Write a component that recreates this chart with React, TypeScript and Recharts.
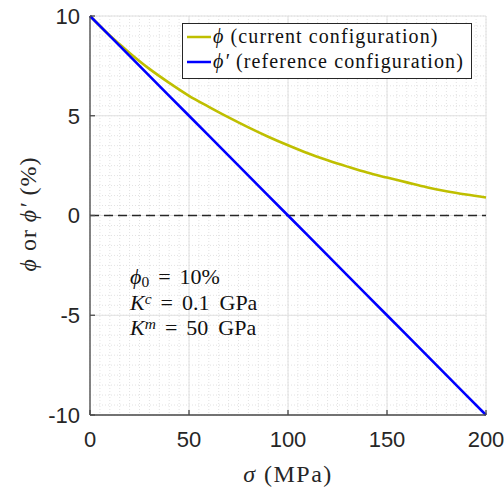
import React from "react";
import { LineChart, Line, XAxis, YAxis, CartesianGrid, ReferenceLine, Legend, Label } from "recharts";

// stress (MPa) and porosity (%)
const sigmaMPa = [0, 10, 20, 30, 40, 50, 60, 70, 80, 90, 100, 110, 120, 130, 140, 150, 160, 170, 180, 190, 200];
const phiCurrent = [10, 9.02, 8.15, 7.35, 6.65, 6.0, 5.45, 4.92, 4.42, 3.95, 3.52, 3.12, 2.77, 2.45, 2.15, 1.9, 1.66, 1.42, 1.22, 1.05, 0.9];
const phiReference = [10, 9, 8, 7, 6, 5, 4, 3, 2, 1, 0, -1, -2, -3, -4, -5, -6, -7, -8, -9, -10];

const xTicks = [0, 50, 100, 150, 200];
const yTicks = [-10, -5, 0, 5, 10];
// minor grid positions
const xMinor = Array.from({ length: 41 }, (_, i) => i * 5);
const yMinor = Array.from({ length: 41 }, (_, i) => -10 + i * 0.5);

const data = sigmaMPa.map((s, i) => ({ sigma: s, phi: phiCurrent[i], phiRef: phiReference[i] }));

const YELLOW = "#BFBF00";
const BLUE = "#0000FF";
const AXIS = "#4a4a4a";
const SERIF = "'Liberation Serif', 'DejaVu Serif', serif";
const SANS = "'Liberation Sans', Arial, sans-serif";

const tickStyle = { fontFamily: SANS, fontSize: 22, fill: "#262626" };

const YTitle = () => (
  <text
    x={28}
    y={214}
    transform="rotate(-90 28 214)"
    textAnchor="middle"
    dominantBaseline="central"
    fontFamily={SERIF}
    fontSize={24}
    letterSpacing={1}
    fill="#262626"
  >
    <tspan fontStyle="italic">ϕ</tspan>
    <tspan> or </tspan>
    <tspan fontStyle="italic">ϕ′</tspan>
    <tspan> (%)</tspan>
  </text>
);

const XTitle = () => (
  <text x={288} y={482} textAnchor="middle" fontFamily={SERIF} fontSize={24} letterSpacing={1.5} fill="#262626">
    <tspan fontStyle="italic">σ</tspan>
    <tspan> (MPa)</tspan>
  </text>
);

const LegendBox = () => {
  const rows = [
    { color: YELLOW, sym: "ϕ", text: " (current configuration)" },
    { color: BLUE, sym: "ϕ′", text: " (reference configuration)" },
  ];
  return (
    <div
      style={{
        boxSizing: "border-box",
        width: 290,
        height: 56,
        border: "1px solid #262626",
        background: "#fff",
        fontFamily: SERIF,
        fontSize: 20,
        letterSpacing: 1.1,
        color: "#111",
      }}
    >
      {rows.map((r) => (
        <div key={r.sym} style={{ height: 25, lineHeight: "25px", display: "flex", alignItems: "center", whiteSpace: "nowrap" }}>
          <svg width={30} height={6} style={{ flex: "none" }}>
            <line x1={4} y1={3} x2={28} y2={3} stroke={r.color} strokeWidth={2.5} />
          </svg>
          <span>
            <i>{r.sym}</i>
            {r.text}
          </span>
        </div>
      ))}
    </div>
  );
};

const annoRow: React.CSSProperties = { height: 25.5, lineHeight: "25.5px", whiteSpace: "nowrap" };
const Gap = ({ w = 9 }: { w?: number }) => <span style={{ display: "inline-block", width: w }} />;
const small: React.CSSProperties = { fontSize: 15.5, position: "relative", lineHeight: 1 };

export default function App() {
  return (
    <div style={{ position: "absolute", left: 0, top: 0, width: 504, height: 490, background: "#fff" }}>
      <LineChart width={504} height={490} data={data} margin={{ top: 16, right: 18, bottom: 0, left: 0 }}>
        <CartesianGrid verticalValues={xMinor} horizontalValues={yMinor} stroke="#e2e2e2" strokeDasharray="1 2" />
        <CartesianGrid stroke="#e0e0e0" strokeWidth={1} />
        <XAxis
          dataKey="sigma"
          type="number"
          domain={[0, 200]}
          ticks={xTicks}
          interval={0}
          height={75}
          tickSize={-5}
          tickMargin={21}
          tick={tickStyle}
          stroke={AXIS}
          strokeWidth={1.3}
        >
          <Label content={<XTitle />} />
        </XAxis>
        <XAxis
          xAxisId="top"
          orientation="top"
          type="number"
          domain={[0, 200]}
          ticks={xTicks}
          interval={0}
          height={0}
          tickSize={-5}
          tick={false}
          stroke={AXIS}
          strokeWidth={1.3}
        />
        <YAxis
          type="number"
          domain={[-10, 10]}
          ticks={yTicks}
          interval={0}
          width={90}
          tickSize={-5}
          tickMargin={15}
          tick={tickStyle}
          stroke={AXIS}
          strokeWidth={1.3}
        >
          <Label content={<YTitle />} />
        </YAxis>
        <YAxis
          yAxisId="right"
          orientation="right"
          type="number"
          domain={[-10, 10]}
          ticks={yTicks}
          interval={0}
          width={0}
          tickSize={-5}
          tick={false}
          stroke={AXIS}
          strokeWidth={1.3}
        />
        <ReferenceLine y={0} stroke="#262626" strokeWidth={1.5} strokeDasharray="9 5" />
        <Line dataKey="phi" stroke={YELLOW} strokeWidth={2.6} dot={false} isAnimationActive={false} type="monotone" />
        <Line dataKey="phiRef" stroke={BLUE} strokeWidth={2.6} dot={false} isAnimationActive={false} type="linear" />
        <Legend
          layout="vertical"
          align="center"
          verticalAlign="middle"
          wrapperStyle={{ top: 23, left: 182, width: 290, height: 56 }}
          content={() => <LegendBox />}
        />
      </LineChart>
      <div style={{ position: "absolute", left: 130, top: 264, fontFamily: SERIF, fontSize: 22, color: "#111" }}>
        <div style={annoRow}>
          <i>ϕ</i>
          <span style={{ ...small, top: 3 }}>0</span>
          <Gap />=<Gap />10%
        </div>
        <div style={annoRow}>
          <i>K</i>
          <i style={{ ...small, top: -6 }}>c</i>
          <Gap />=<Gap />0.1<Gap w={10} />GPa
        </div>
        <div style={annoRow}>
          <i>K</i>
          <i style={{ ...small, top: -6 }}>m</i>
          <Gap />=<Gap />50<Gap w={10} />GPa
        </div>
      </div>
    </div>
  );
}
